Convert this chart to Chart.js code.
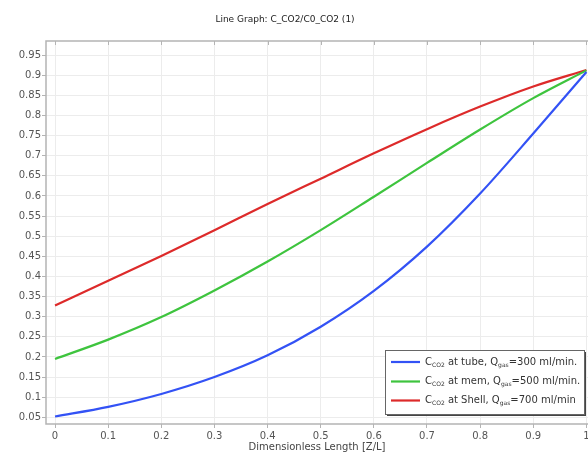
<!DOCTYPE html>
<html><head><meta charset="utf-8">
<script src="https://cdn.jsdelivr.net/npm/chart.js@4.4.0/dist/chart.umd.min.js"></script>
<style>html,body{margin:0;padding:0;background:#fff}#wrap{width:588px;height:453px}</style>
</head><body><div id="wrap"><canvas id="c" width="588" height="453"></canvas></div>
<script>
const titleText = "Line Graph: C_CO2/C0_CO2 (1)";
const xTitle = "Dimensionless Length [Z/L]";
const xValues = [0, 0.1, 0.2, 0.3, 0.4, 0.5, 0.6, 0.7, 0.8, 0.9, 1.0];
const tubeValues = [0.052, 0.076, 0.108, 0.150, 0.204, 0.275, 0.364, 0.474, 0.606, 0.755, 0.908];
const memValues  = [0.195, 0.243, 0.299, 0.365, 0.437, 0.515, 0.598, 0.682, 0.765, 0.843, 0.912];
const shellValues= [0.328, 0.389, 0.451, 0.515, 0.580, 0.643, 0.706, 0.766, 0.822, 0.872, 0.913];
const xTicks = [0, 0.1, 0.2, 0.3, 0.4, 0.5, 0.6, 0.7, 0.8, 0.9, 1];
const yTicks = [0.05,0.1,0.15,0.2,0.25,0.3,0.35,0.4,0.45,0.5,0.55,0.6,0.65,0.7,0.75,0.8,0.85,0.9,0.95];
const legendParts = [
  [["C",0],["CO2",1],[" at tube, Q",0],["gas",1],["=300 ml/min.",0]],
  [["C",0],["CO2",1],[" at mem, Q",0],["gas",1],["=500 ml/min.",0]],
  [["C",0],["CO2",1],[" at Shell, Q",0],["gas",1],["=700 ml/min",0]]
];
const colors = ["#3352f5", "#3ec43e", "#dd2a2a"];
const FONT = "DejaVu Sans";

function pts(vals){ return xValues.map((x,i)=>({x:x,y:vals[i]})); }

const overlay = {
  id:'overlay',
  afterDraw(chart){
    const ctx = chart.ctx, a = chart.chartArea;
    ctx.save();
    // frame (left, top, bottom)
    ctx.strokeStyle = '#b4b4b4'; ctx.lineWidth = 1.5;
    ctx.beginPath();
    ctx.moveTo(chart.width, a.top); ctx.lineTo(a.left, a.top); ctx.lineTo(a.left, a.bottom); ctx.lineTo(chart.width, a.bottom);
    ctx.stroke();
    // top ticks
    ctx.lineWidth = 1;
    const xs = chart.scales.x;
    xTicks.forEach(t=>{ const px = Math.round(xs.getPixelForValue(t))+0.5; ctx.beginPath(); ctx.moveTo(px,a.top); ctx.lineTo(px,a.top+4); ctx.stroke(); });
    // title
    ctx.fillStyle = '#222'; ctx.font = '9px "'+FONT+'"'; ctx.textAlign='center'; ctx.textBaseline='middle';
    ctx.fillText(titleText, 285, 20);
    // legend
    const bx=385, by=350, bw=199, bh=64;
    ctx.fillStyle = '#444'; ctx.fillRect(bx+2, by+2, bw, bh);
    ctx.fillStyle = '#fff'; ctx.fillRect(bx, by, bw, bh);
    ctx.strokeStyle = '#666'; ctx.lineWidth = 1; ctx.strokeRect(bx+0.5, by+0.5, bw, bh);
    const rows = [362, 381.5, 400.5];
    ctx.textAlign='left'; ctx.textBaseline='middle';
    rows.forEach((ry,i)=>{
      ctx.strokeStyle = colors[i]; ctx.lineWidth = 2.2;
      ctx.beginPath(); ctx.moveTo(391, ry); ctx.lineTo(420, ry); ctx.stroke();
      let x = 425;
      ctx.fillStyle = '#333';
      legendParts[i].forEach(([s,sub])=>{
        if(sub){ ctx.font = '6px "'+FONT+'"'; ctx.fillText(s, x, ry+3); }
        else { ctx.font = '10px "'+FONT+'"'; ctx.fillText(s, x, ry); }
        x += ctx.measureText(s).width;
      });
    });
    ctx.restore();
  }
};

new Chart(document.getElementById('c'), {
  type:'line',
  data:{ datasets:[
    {label:'tube', data:pts(tubeValues), borderColor:colors[0], borderWidth:2.2, pointRadius:0, cubicInterpolationMode:'monotone', fill:false},
    {label:'mem', data:pts(memValues), borderColor:colors[1], borderWidth:2.2, pointRadius:0, cubicInterpolationMode:'monotone', fill:false},
    {label:'shell', data:pts(shellValues), borderColor:colors[2], borderWidth:2.2, pointRadius:0, cubicInterpolationMode:'monotone', fill:false}
  ]},
  options:{
    responsive:false, animation:false, devicePixelRatio:1,
    layout:{padding:{left:0, top:41, right:0, bottom:0}},
    plugins:{legend:{display:false}, title:{display:false}, tooltip:{enabled:false}},
    scales:{
      x:{ type:'linear', min:-0.017, max:1.003,
        afterBuildTicks(s){ s.ticks = xTicks.map(v=>({value:v})); },
        afterFit(s){ s.height = 29; s.paddingRight = 0; s.paddingLeft = 0; },
        grid:{color:'#ececec', tickLength:4, tickColor:'#b4b4b4', drawTicks:true},
        border:{display:false},
        ticks:{font:{family:FONT,size:10}, color:'#555', padding:2, maxRotation:0, autoSkip:false, callback:(v)=>String(v)},
        title:{display:true, text:xTitle, font:{family:FONT,size:10}, color:'#444', padding:{top:0,bottom:0}}
      },
      y:{ type:'linear', min:0.0333, max:0.985,
        afterBuildTicks(s){ s.ticks = yTicks.map(v=>({value:v})); },
        afterFit(s){ s.width = 46; s.paddingTop = 0; s.paddingBottom = 0; },
        grid:{color:'#ececec', tickLength:4, tickColor:'#b4b4b4', drawTicks:true},
        border:{display:false},
        ticks:{font:{family:FONT,size:10}, color:'#555', padding:1, autoSkip:false, callback:(v)=>String(v)}
      }
    }
  },
  plugins:[overlay]
});
</script></body></html>
